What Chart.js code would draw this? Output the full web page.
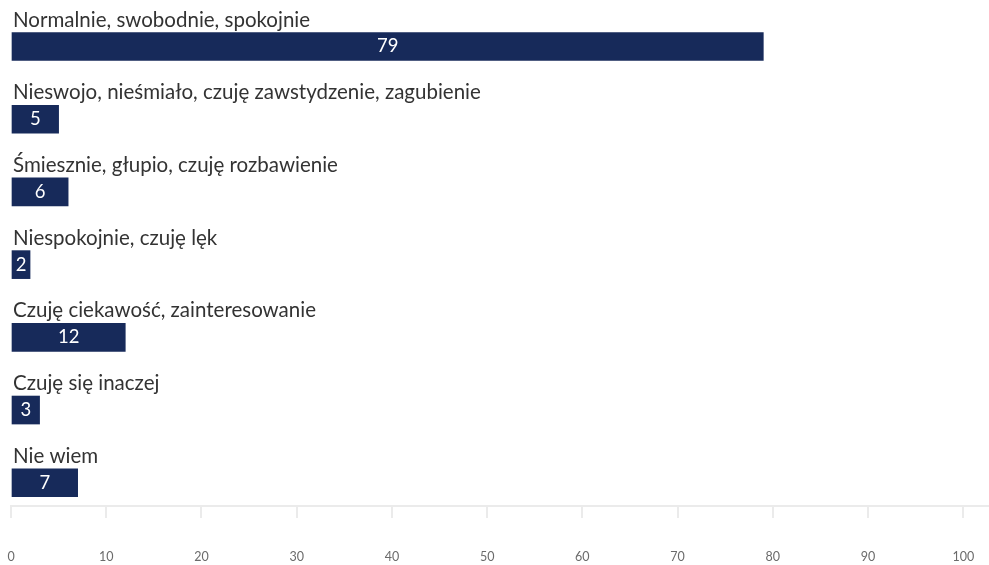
<!DOCTYPE html>
<html lang="pl">
<head>
  <meta charset="UTF-8">
  <title>Samopoczucie</title>
  <script src="https://cdn.jsdelivr.net/npm/chart.js"></script>
  <style>
    html, body { margin: 0; padding: 0; background: #ffffff; }
    .wrap { width: 989px; height: 565px; position: relative; }
  </style>
</head>
<body>
<div class="wrap"><canvas id="feelChart"></canvas></div>
<script>
  const categories = [
    'Normalnie, swobodnie, spokojnie',
    'Nieswojo, nieśmiało, czuję zawstydzenie, zagubienie',
    'Śmiesznie, głupio, czuję rozbawienie',
    'Niespokojnie, czuję lęk',
    'Czuję ciekawość, zainteresowanie',
    'Czuję się inaczej',
    'Nie wiem'
  ];
  const values = [79, 5, 6, 2, 12, 3, 7];
  const xTicks = [0, 10, 20, 30, 40, 50, 60, 70, 80, 90, 100];

  const barColor = '#172a5a';

  // podpisy kategorii nad słupkami + wartości w środku
  const barLabels = {
    id: 'barLabels',
    afterDatasetsDraw(chart) {
      const ctx = chart.ctx;
      const meta = chart.getDatasetMeta(0);
      ctx.save();
      meta.data.forEach((bar, i) => {
        const top = bar.y - bar.height / 2;
        ctx.font = '20.5px Lato';
        ctx.fillStyle = '#333333';
        ctx.textAlign = 'left';
        ctx.textBaseline = 'alphabetic';
        ctx.fillText(categories[i], bar.base + 1, top - 6);

        ctx.font = '18.5px Lato';
        ctx.fillStyle = '#ffffff';
        ctx.textAlign = 'center';
        ctx.textBaseline = 'middle';
        ctx.fillText(String(values[i]), (bar.base + bar.x) / 2, bar.y);
      });
      ctx.restore();
    }
  };

  new Chart(document.getElementById('feelChart'), {
    type: 'bar',
    data: {
      datasets: [{
        data: values.map((v, i) => ({ x: v, y: i })),
        backgroundColor: barColor,
        barThickness: 28
      }]
    },
    options: {
      indexAxis: 'y',
      responsive: true,
      maintainAspectRatio: false,
      animation: false,
      layout: { padding: { left: 11, right: 0, top: 0, bottom: 1 } },
      plugins: {
        legend: { display: false },
        tooltip: { enabled: false }
      },
      scales: {
        y: {
          type: 'linear',
          display: false,
          offset: false,
          reverse: true,
          min: -0.64,
          max: 6.32
        },
        x: {
          type: 'linear',
          min: 0,
          max: 102.7,
          afterBuildTicks: s => { s.ticks = xTicks.map(v => ({ value: v })); },
          border: { display: true, color: '#ebebeb', width: 2 },
          grid: {
            drawOnChartArea: false,
            drawTicks: true,
            tickLength: 43,
            tickBorderDash: [11, 100],
            color: '#ebebeb',
            lineWidth: 2
          },
          ticks: {
            padding: 0,
            color: '#6b6b6b',
            font: { family: 'Lato', size: 12.5 },
            maxRotation: 0
          }
        }
      }
    },
    plugins: [barLabels]
  });
</script>
</body>
</html>
